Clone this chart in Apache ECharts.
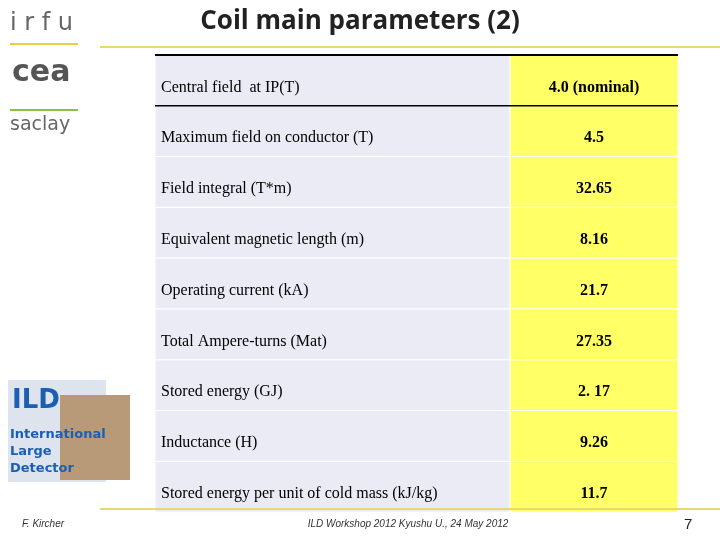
<!DOCTYPE html>
<html><head><meta charset="utf-8">
<script src="https://cdn.jsdelivr.net/npm/echarts@6/dist/echarts.min.js"></script>
<style>html,body{margin:0;background:#fff}#c{width:720px;height:540px}</style>
</head><body><div id="c"></div>
<script>
var chart = echarts.init(document.getElementById('c'));

// table data
var labels = ['Central field  at IP(T)', 'Maximum field on conductor (T)', 'Field integral (T*m)',
  'Equivalent magnetic length (m)', 'Operating current (kA)', 'Total Ampere-turns (Mat)',
  'Stored energy (GJ)', 'Inductance (H)', 'Stored energy per unit of cold mass (kJ/kg)'];
var values = ['4.0 (nominal)', '4.5', '32.65', '8.16', '21.7', '27.35', '2. 17', '9.26', '11.7'];

var x0 = 155, xs = 510, x1 = 678, y0 = 55, rh = 50.8;
var g = [];

// title + logo bits
g.push({ type: 'text', left: 'center', top: 9, style: { text: 'Coil main parameters (2)', font: 'bold 26px "Open Sans"', fill: '#222' } });
g.push({ type: 'line', shape: { x1: 100, y1: 47, x2: 720, y2: 47 }, style: { stroke: '#e8d870', lineWidth: 2 } });
g.push({ type: 'text', x: 10, y: 12, style: { text: 'i r f u', font: '24px "DejaVu Sans"', fill: '#666' } });
g.push({ type: 'line', shape: { x1: 10, y1: 44, x2: 78, y2: 44 }, style: { stroke: '#e8d040', lineWidth: 2 } });
g.push({ type: 'text', x: 12, y: 58, style: { text: 'cea', font: 'bold 30px "DejaVu Sans"', fill: '#555' } });
g.push({ type: 'line', shape: { x1: 10, y1: 110, x2: 78, y2: 110 }, style: { stroke: '#8cc040', lineWidth: 2 } });
g.push({ type: 'text', x: 10, y: 116, style: { text: 'saclay', font: '19px "DejaVu Sans"', fill: '#666' } });

// ILD logo approx
g.push({ type: 'rect', shape: { x: 8, y: 380, width: 98, height: 102 }, style: { fill: '#dde4ee' } });
g.push({ type: 'rect', shape: { x: 60, y: 395, width: 70, height: 85 }, style: { fill: '#b89a78' } });
g.push({ type: 'text', x: 12, y: 388, style: { text: 'ILD', font: 'bold 26px "DejaVu Sans"', fill: '#1a5fb4' } });
g.push({ type: 'text', x: 10, y: 426, style: { text: 'International\nLarge\nDetector', font: 'bold 13px "DejaVu Sans"', fill: '#1a5fb4', lineHeight: 17 } });

// table
labels.forEach(function (lab, i) {
  var y = y0 + i * rh;
  g.push({ type: 'rect', shape: { x: x0, y: y, width: xs - x0, height: rh }, style: { fill: '#ebebf5', stroke: '#fff', lineWidth: 1 } });
  g.push({ type: 'rect', shape: { x: xs, y: y, width: x1 - xs, height: rh }, style: { fill: '#ffff66', stroke: '#fff', lineWidth: 1 } });
  g.push({ type: 'text', x: 161, y: y + rh / 2 + 7, style: { text: lab, font: '16px "Liberation Serif"', fill: '#000', verticalAlign: 'middle' } });
  g.push({ type: 'text', x: 594, y: y + rh / 2 + 7, style: { text: values[i], font: 'bold 16px "Liberation Serif"', fill: '#000', align: 'center', verticalAlign: 'middle' } });
});
g.push({ type: 'line', shape: { x1: x0, y1: y0, x2: x1, y2: y0 }, style: { stroke: '#000', lineWidth: 2 } });
g.push({ type: 'line', shape: { x1: x0, y1: y0 + rh, x2: x1, y2: y0 + rh }, style: { stroke: '#000', lineWidth: 1.5 } });
g.push({ type: 'line', shape: { x1: 100, y1: 509, x2: 720, y2: 509 }, style: { stroke: '#e8d870', lineWidth: 2 } });

// footer
g.push({ type: 'text', x: 22, y: 519, style: { text: 'F. Kircher', font: 'italic 10px "Liberation Sans"', fill: '#333' } });
g.push({ type: 'text', x: 408, y: 519, style: { text: 'ILD Workshop 2012 Kyushu U., 24 May 2012', font: 'italic 10px "Liberation Sans"', fill: '#333', align: 'center' } });
g.push({ type: 'text', x: 684, y: 517, style: { text: '7', font: '15px "Liberation Sans"', fill: '#222' } });

chart.setOption({ animation: false, graphic: g });
</script></body></html>
